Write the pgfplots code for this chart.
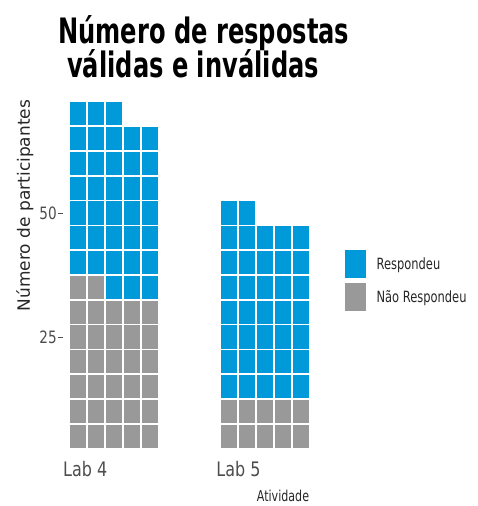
\documentclass[border=0pt]{standalone}
\usepackage{pgfplots}
\pgfplotsset{compat=1.18}
\usepackage{fontspec}
\setmainfont{DejaVu Sans}
\newfontfamily\titlefont[FakeStretch=0.69]{DejaVu Sans}
\newfontfamily\condA[FakeStretch=0.8]{DejaVu Sans}
\newfontfamily\condB[FakeStretch=0.74]{DejaVu Sans}
\definecolor{wblue}{RGB}{0,154,218}
\definecolor{wgrey}{RGB}{153,153,153}
\definecolor{txtgrey}{RGB}{77,77,77}
\pgfdeclareplotmark{tile}{\pgfpathrectangle{\pgfpoint{-8.2pt}{-11.65pt}}{\pgfpoint{16.4pt}{23.3pt}}\pgfusepathqfill}
\begin{document}
\begin{tikzpicture}
\useasboundingbox (0pt,0pt) rectangle (477pt,506pt);
\node[anchor=base west, inner sep=0pt] at (58pt,462pt) {\titlefont\bfseries\fontsize{35}{35}\selectfont Número de respostas};
\node[anchor=base west, inner sep=0pt] at (67pt,428pt) {\titlefont\bfseries\fontsize{35}{35}\selectfont válidas e inválidas};
\begin{axis}[
  at={(63pt,45pt)}, anchor=south west,
  scale only axis, width=253.9pt, height=372pt,
  xmin=0.15, xmax=14.3, ymin=0, ymax=15,
  clip=false,
  axis line style={draw=none},
  xtick=\empty,
  ytick={5,10}, yticklabels={25,50},
  ytick pos=left, tick align=outside,
  major tick length=5pt,
  tick style={color=txtgrey, line width=0.8pt},
  /pgf/number format/assume math mode=true,
  yticklabel style={font=\condA\fontsize{17}{17}\selectfont, text=txtgrey, inner sep=1pt},
  legend style={at={(1.1107,0.5672)}, anchor=north west, draw=none, fill=none,
    inner sep=0pt, row sep=5.5pt, font=\condB\fontsize{15.5}{15.5}\selectfont,
    text=black!85, nodes={inner sep=0pt}},
  legend cell align=left,
  /tikz/every odd column/.append style={column sep=11pt},
  legend image code/.code={\fill[#1] (0pt,-13.5pt) rectangle (20pt,13.5pt);},
]
\addplot[only marks, mark=tile, color=wblue] coordinates {
(3,7) (4,7) (5,7)
(1,8) (2,8) (3,8) (4,8) (5,8)
(1,9) (2,9) (3,9) (4,9) (5,9)
(1,10) (2,10) (3,10) (4,10) (5,10)
(1,11) (2,11) (3,11) (4,11) (5,11)
(1,12) (2,12) (3,12) (4,12) (5,12)
(1,13) (2,13) (3,13) (4,13) (5,13)
(1,14) (2,14) (3,14)
(9.4,3) (10.4,3) (11.4,3) (12.4,3) (13.4,3)
(9.4,4) (10.4,4) (11.4,4) (12.4,4) (13.4,4)
(9.4,5) (10.4,5) (11.4,5) (12.4,5) (13.4,5)
(9.4,6) (10.4,6) (11.4,6) (12.4,6) (13.4,6)
(9.4,7) (10.4,7) (11.4,7) (12.4,7) (13.4,7)
(9.4,8) (10.4,8) (11.4,8) (12.4,8) (13.4,8)
(9.4,9) (10.4,9) (11.4,9) (12.4,9) (13.4,9)
(9.4,10) (10.4,10)
};
\addlegendentry{Respondeu}
\addplot[only marks, mark=tile, color=wgrey] coordinates {
(1,1) (2,1) (3,1) (4,1) (5,1)
(1,2) (2,2) (3,2) (4,2) (5,2)
(1,3) (2,3) (3,3) (4,3) (5,3)
(1,4) (2,4) (3,4) (4,4) (5,4)
(1,5) (2,5) (3,5) (4,5) (5,5)
(1,6) (2,6) (3,6) (4,6) (5,6)
(1,7) (2,7)
(9.4,1) (10.4,1) (11.4,1) (12.4,1) (13.4,1)
(9.4,2) (10.4,2) (11.4,2) (12.4,2) (13.4,2)
};
\addlegendentry{Não Respondeu}
\node[anchor=base west, inner sep=0pt, text=txtgrey] at (axis cs:0.15,-0.645) {\condA\fontsize{20}{20}\selectfont Lab 4};
\node[anchor=base west, inner sep=0pt, text=txtgrey] at (axis cs:8.69,-0.645) {\condA\fontsize{20}{20}\selectfont Lab 5};
\node[anchor=base, inner sep=0pt, text=black!85] at (axis cs:12.41,-1.65) {\condB\fontsize{15}{15}\selectfont Atividade};
\node[rotate=90, inner sep=0pt, text=black!85] at (axis cs:-1.98,10.3) {\fontsize{17}{17}\selectfont Número de participantes};
\end{axis}
\end{tikzpicture}
\end{document}
